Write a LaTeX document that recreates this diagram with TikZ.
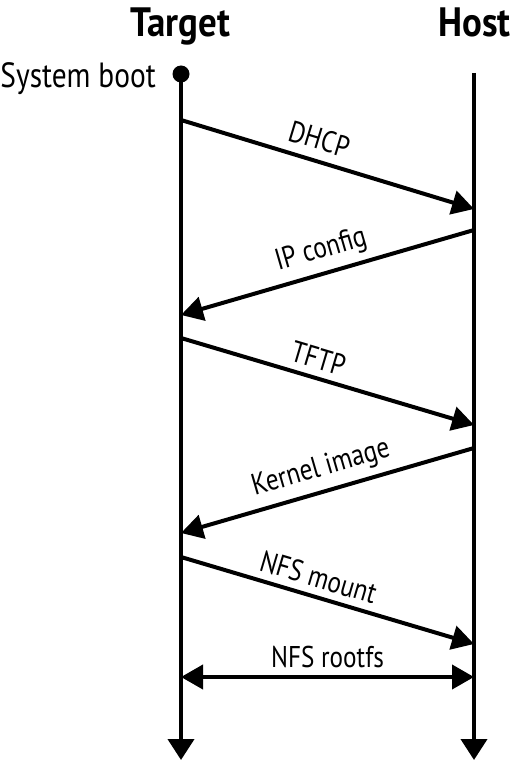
\documentclass[tikz,border=0pt]{standalone}
\usepackage{fontspec}
\setmainfont[FakeStretch=0.84]{PT Sans}
\newfontfamily\titlefont[FakeStretch=0.9]{PT Sans}
\usetikzlibrary{arrows.meta}
\begin{document}
\begin{tikzpicture}[x=1pt,y=-1pt,
  lifeline/.style={line width=4pt,-{Triangle[length=21pt,width=26pt]}},
  msg/.style={line width=4pt,-{Triangle[length=22pt,width=24pt]}},
  both/.style={line width=4pt,{Triangle[length=22pt,width=24pt]}-{Triangle[length=22pt,width=24pt]}},
  lbl/.style={font=\fontsize{30}{32}\selectfont,sloped,above,inner sep=7pt},
  title/.style={font=\titlefont\fontsize{41}{43}\selectfont\bfseries,inner sep=0pt}]
\useasboundingbox (0,0) rectangle (511,762);
\node[title,anchor=base] (target) at (180,37) {Target};
\node[title,anchor=base east] (host) at (511,37) {Host};
\node[font=\fontsize{35}{36}\selectfont,anchor=base east,inner sep=0pt] (boot) at (156,88) {System boot};
\coordinate (t0) at (181,74);
\coordinate (t1) at (181,760);
\coordinate (h0) at (474,73);
\coordinate (h1) at (474,760);
\draw[lifeline] (t0) -- (t1);
\draw[lifeline] (h0) -- (h1);
\fill (t0) circle (8.5);
\coordinate (a1) at (181,120); \coordinate (b1) at (474,209);
\coordinate (a2) at (474,230); \coordinate (b2) at (181,315);
\coordinate (a3) at (181,338); \coordinate (b3) at (474,425);
\coordinate (a4) at (474,448); \coordinate (b4) at (181,533);
\coordinate (a5) at (181,557); \coordinate (b5) at (474,644);
\coordinate (a6) at (181,677); \coordinate (b6) at (474,677);
\draw[msg] (a1) -- node[lbl,pos=0.45,inner sep=9pt] {DHCP} (b1);
\draw[msg] (a2) -- node[lbl] {IP config} (b2);
\draw[msg] (a3) -- node[lbl,pos=0.45] {TFTP} (b3);
\draw[msg] (a4) -- node[lbl] {Kernel image} (b4);
\draw[msg] (a5) -- node[lbl,pos=0.45] {NFS mount} (b5);
\draw[both] (a6) -- node[lbl] {NFS rootfs} (b6);
\end{tikzpicture}
\end{document}
